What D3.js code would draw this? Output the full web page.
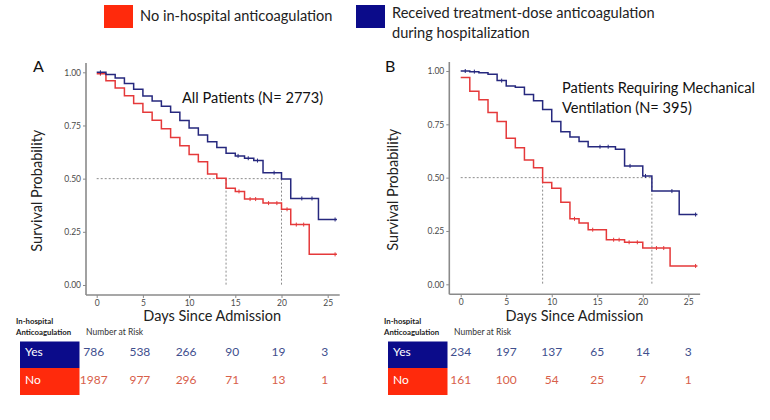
<!DOCTYPE html>
<html>
<head>
<meta charset="utf-8">
<script src="https://cdn.jsdelivr.net/npm/d3@7"></script>
<style>
  html, body { margin: 0; padding: 0; background: #fff; }
  svg { display: block; }
  text { font-family: Lato, "Open Sans", sans-serif; }
</style>
</head>
<body>
<svg id="chart" width="770" height="420"></svg>
<script>
// ---------------- DATA ----------------
const legendLabels = ["No in-hospital anticoagulation", "Received treatment-dose anticoagulation", "during hospitalization"];
const xTicks = [0, 5, 10, 15, 20, 25];
const yTicks = [0, 0.25, 0.5, 0.75, 1.0];
const riskDays = [0, 5, 10, 15, 20, 25];

// Panel A: All patients
const aTitle = ["All Patients (N= 2773)"];
const aBlueTimes = [0, 1, 2, 3, 4, 5, 6, 7, 8, 9, 10, 11, 12, 13, 14, 15, 16, 17, 18, 20, 21, 24, 26];
const aBlueSurv  = [1.0, 0.99, 0.973, 0.947, 0.92, 0.888, 0.865, 0.84, 0.812, 0.773, 0.738, 0.705, 0.674, 0.647, 0.62, 0.607, 0.596, 0.585, 0.528, 0.498, 0.407, 0.308, 0.308];
const aRedTimes  = [0, 1, 2, 3, 4, 5, 6, 7, 8, 9, 10, 11, 12, 13, 14, 15, 16, 18, 20, 21, 23, 26];
const aRedSurv   = [0.993, 0.96, 0.926, 0.89, 0.853, 0.812, 0.775, 0.735, 0.693, 0.655, 0.614, 0.58, 0.522, 0.502, 0.455, 0.44, 0.404, 0.385, 0.356, 0.284, 0.144, 0.144];
const aBlueCensor = [0.4, 15.3, 16.4, 17.4, 19.2, 22.2, 23.3, 25.8];
const aRedCensor  = [0.4, 15.4, 16.6, 17.2, 18.6, 19.5, 20.6, 21.6, 22.4, 25.8];
const aMedians = [14, 20];
const aRiskYes = [786, 538, 266, 90, 19, 3];
const aRiskNo  = [1987, 977, 296, 71, 13, 1];

// Panel B: Patients requiring mechanical ventilation
const bTitle = ["Patients Requiring Mechanical", "Ventilation (N= 395)"];
const bBlueTimes = [0, 1, 2, 3, 4, 5, 6, 7, 8, 9, 10, 11, 12, 13, 14, 17, 18, 20, 21, 24, 26];
const bBlueSurv  = [1.0, 0.997, 0.992, 0.985, 0.955, 0.93, 0.924, 0.89, 0.86, 0.82, 0.763, 0.715, 0.69, 0.67, 0.645, 0.633, 0.555, 0.508, 0.437, 0.327, 0.327];
const bRedTimes  = [0, 1, 2, 3, 4, 5, 6, 7, 8, 9, 10, 11, 12, 13, 14, 16, 18, 20, 23, 26];
const bRedSurv   = [0.97, 0.905, 0.865, 0.805, 0.763, 0.685, 0.64, 0.583, 0.547, 0.477, 0.45, 0.385, 0.307, 0.287, 0.256, 0.209, 0.197, 0.17, 0.086, 0.086];
const bBlueCensor = [0.5, 1.5, 4.5, 15.3, 16.2, 18.6, 20.3, 23.2, 25.8];
const bRedCensor  = [12.5, 14.5, 16.8, 17.4, 18.5, 19.4, 21.5, 22.3, 25.8];
const bMedians = [9, 21];
const bRiskYes = [234, 197, 137, 65, 14, 3];
const bRiskNo  = [161, 100, 54, 25, 7, 1];

// ---------------- STYLE ----------------
const RED_LINE = "#e5393a", BLUE_LINE = "#26287e";
const RED_BOX = "#ff2a0c", BLUE_BOX = "#0b0b8a";
const RED_TXT = "#d8604a", BLUE_TXT = "#3f4f8e";
const AXIS = "#8a8a8a", TICKTXT = "#4a4a4a";

const svg = d3.select("#chart");

// Legend
const leg = svg.append("g");
leg.append("rect").attr("x", 104).attr("y", 5).attr("width", 29).attr("height", 23).attr("fill", RED_BOX);
leg.append("text").attr("x", 140).attr("y", 21).attr("font-size", 14.6).attr("fill", "#222").text(legendLabels[0]);
leg.append("rect").attr("x", 356).attr("y", 5).attr("width", 29).attr("height", 23).attr("fill", BLUE_BOX);
leg.append("text").attr("x", 392).attr("y", 18).attr("font-size", 14.6).attr("fill", "#222").text(legendLabels[1]);
leg.append("text").attr("x", 392).attr("y", 38).attr("font-size", 14.6).attr("fill", "#222").text(legendLabels[2]);

function drawPanel(cfg) {
  const g = svg.append("g");
  const x = d3.scaleLinear().domain([0, 25]).range(cfg.xr);
  const y = d3.scaleLinear().domain([0, 1]).range(cfg.yr);

  // panel letter
  g.append("text").attr("x", cfg.letterX).attr("y", 72).attr("font-size", 16).attr("fill", "#111").text(cfg.letter);

  // axis lines
  g.append("line").attr("x1", cfg.axisX).attr("x2", cfg.axisX).attr("y1", cfg.axisTop).attr("y2", cfg.axisY)
    .attr("stroke", AXIS).attr("stroke-width", 1.6);
  g.append("line").attr("x1", cfg.axisX).attr("x2", x(26.3)).attr("y1", cfg.axisY).attr("y2", cfg.axisY)
    .attr("stroke", AXIS).attr("stroke-width", 1.6);

  // y axis ticks
  const ya = g.append("g").attr("transform", `translate(${cfg.axisX},0)`)
    .call(d3.axisLeft(y).tickValues(yTicks).tickFormat(d3.format(".2f")).tickSize(3).tickPadding(2));
  ya.select(".domain").remove();
  ya.selectAll("line").attr("stroke", AXIS);
  ya.selectAll("text").attr("font-family", "Liberation Sans, Arial, sans-serif").attr("font-size", 8.5).attr("fill", TICKTXT);

  const xa = g.append("g").attr("transform", `translate(0,${cfg.axisY})`)
    .call(d3.axisBottom(x).tickValues(xTicks).tickSize(3).tickPadding(2));
  xa.select(".domain").remove();
  xa.selectAll("line").attr("stroke", AXIS);
  xa.selectAll("text").attr("font-family", "Liberation Sans, Arial, sans-serif").attr("font-size", 8.5).attr("fill", TICKTXT);

  // axis titles
  g.append("text").attr("transform", `translate(${cfg.yTitleX},${(cfg.yr[0] + cfg.yr[1]) / 2 + 12}) rotate(-90)`)
    .attr("text-anchor", "middle").attr("font-size", 14.5).attr("fill", "#222").text("Survival Probability");
  g.append("text").attr("x", (x(0) + x(25)) / 2).attr("y", 321)
    .attr("text-anchor", "middle").attr("font-size", 14.5).attr("fill", "#222").text("Days Since Admission");

  // median reference lines
  const dash = "2,2";
  g.append("line").attr("x1", x(0)).attr("x2", x(cfg.medians[1])).attr("y1", y(0.5)).attr("y2", y(0.5))
    .attr("stroke", "#8c8c8c").attr("stroke-width", 1).attr("stroke-dasharray", dash);
  cfg.medians.forEach(m => {
    g.append("line").attr("x1", x(m)).attr("x2", x(m)).attr("y1", y(0.5)).attr("y2", y(0))
      .attr("stroke", "#8c8c8c").attr("stroke-width", 1).attr("stroke-dasharray", dash);
  });

  // step curves
  const line = d3.line().x(d => x(d[0])).y(d => y(d[1])).curve(d3.curveStepAfter);
  const stepVal = (times, surv, t) => { let v = surv[0]; times.forEach((tt, i) => { if (tt <= t) v = surv[i]; }); return v; };
  [[cfg.redT, cfg.redS, RED_LINE, cfg.redC], [cfg.blueT, cfg.blueS, BLUE_LINE, cfg.blueC]].forEach(([T, S, col, C]) => {
    g.append("path").datum(T.map((t, i) => [t, S[i]])).attr("d", line)
      .attr("fill", "none").attr("stroke", col).attr("stroke-width", 1.5);
    g.selectAll(null).data(C).enter().append("line")
      .attr("x1", d => x(d)).attr("x2", d => x(d))
      .attr("y1", d => y(stepVal(T, S, d)) - 2).attr("y2", d => y(stepVal(T, S, d)) + 2)
      .attr("stroke", col).attr("stroke-width", 1);
  });

  // annotation
  cfg.title.forEach((t, i) => {
    g.append("text").attr("x", cfg.titleX).attr("y", cfg.titleY + i * 20).attr("font-size", 14.6).attr("fill", "#111").text(t);
  });

  // risk table
  g.append("text").attr("x", cfg.tblX - 4).attr("y", 324).attr("font-size", 7.8).attr("font-weight", "bold").attr("fill", "#222").text("In-hospital");
  g.append("text").attr("x", cfg.tblX - 4).attr("y", 335).attr("font-size", 7.8).attr("font-weight", "bold").attr("fill", "#222").text("Anticoagulation");
  g.append("text").attr("x", cfg.nrX).attr("y", 335).attr("font-size", 8.5).attr("fill", "#333").text("Number at Risk");
  g.append("rect").attr("x", cfg.tblX).attr("y", 341.5).attr("width", 59.5).attr("height", 26.5).attr("fill", BLUE_BOX);
  g.append("rect").attr("x", cfg.tblX).attr("y", 368).attr("width", 59.5).attr("height", 27).attr("fill", RED_BOX);
  g.append("text").attr("x", cfg.tblX + 5).attr("y", 356).attr("font-size", 12).attr("fill", "#fff").text("Yes");
  g.append("text").attr("x", cfg.tblX + 5).attr("y", 383.5).attr("font-size", 12).attr("fill", "#fff").text("No");
  g.selectAll(null).data(cfg.riskYes).enter().append("text")
    .attr("x", (d, i) => x(riskDays[i]) + cfg.riskShift).attr("y", 356).attr("text-anchor", "middle")
    .attr("font-size", 12).attr("fill", BLUE_TXT).text(d => d);
  g.selectAll(null).data(cfg.riskNo).enter().append("text")
    .attr("x", (d, i) => x(riskDays[i]) + cfg.riskShift).attr("y", 383.5).attr("text-anchor", "middle")
    .attr("font-size", 12).attr("fill", RED_TXT).text(d => d);
}

drawPanel({
  letter: "A", letterX: 33, xr: [96.7, 327.7], yr: [285, 72.3], axisX: 86, axisY: 295, axisTop: 63,
  yTitleX: 42, blueT: aBlueTimes, blueS: aBlueSurv, redT: aRedTimes, redS: aRedSurv,
  blueC: aBlueCensor, redC: aRedCensor, medians: aMedians, title: aTitle, titleX: 182, titleY: 103,
  tblX: 20, nrX: 86, riskYes: aRiskYes, riskNo: aRiskNo, riskShift: -3
});
drawPanel({
  letter: "B", letterX: 385, xr: [460.7, 688.3], yr: [284.3, 71], axisX: 449.3, axisY: 294.3, axisTop: 62,
  yTitleX: 398, blueT: bBlueTimes, blueS: bBlueSurv, redT: bRedTimes, redS: bRedSurv,
  blueC: bBlueCensor, redC: bRedCensor, medians: bMedians, title: bTitle, titleX: 562, titleY: 93,
  tblX: 388, nrX: 454, riskYes: bRiskYes, riskNo: bRiskNo, riskShift: 0
});
</script>
</body>
</html>
